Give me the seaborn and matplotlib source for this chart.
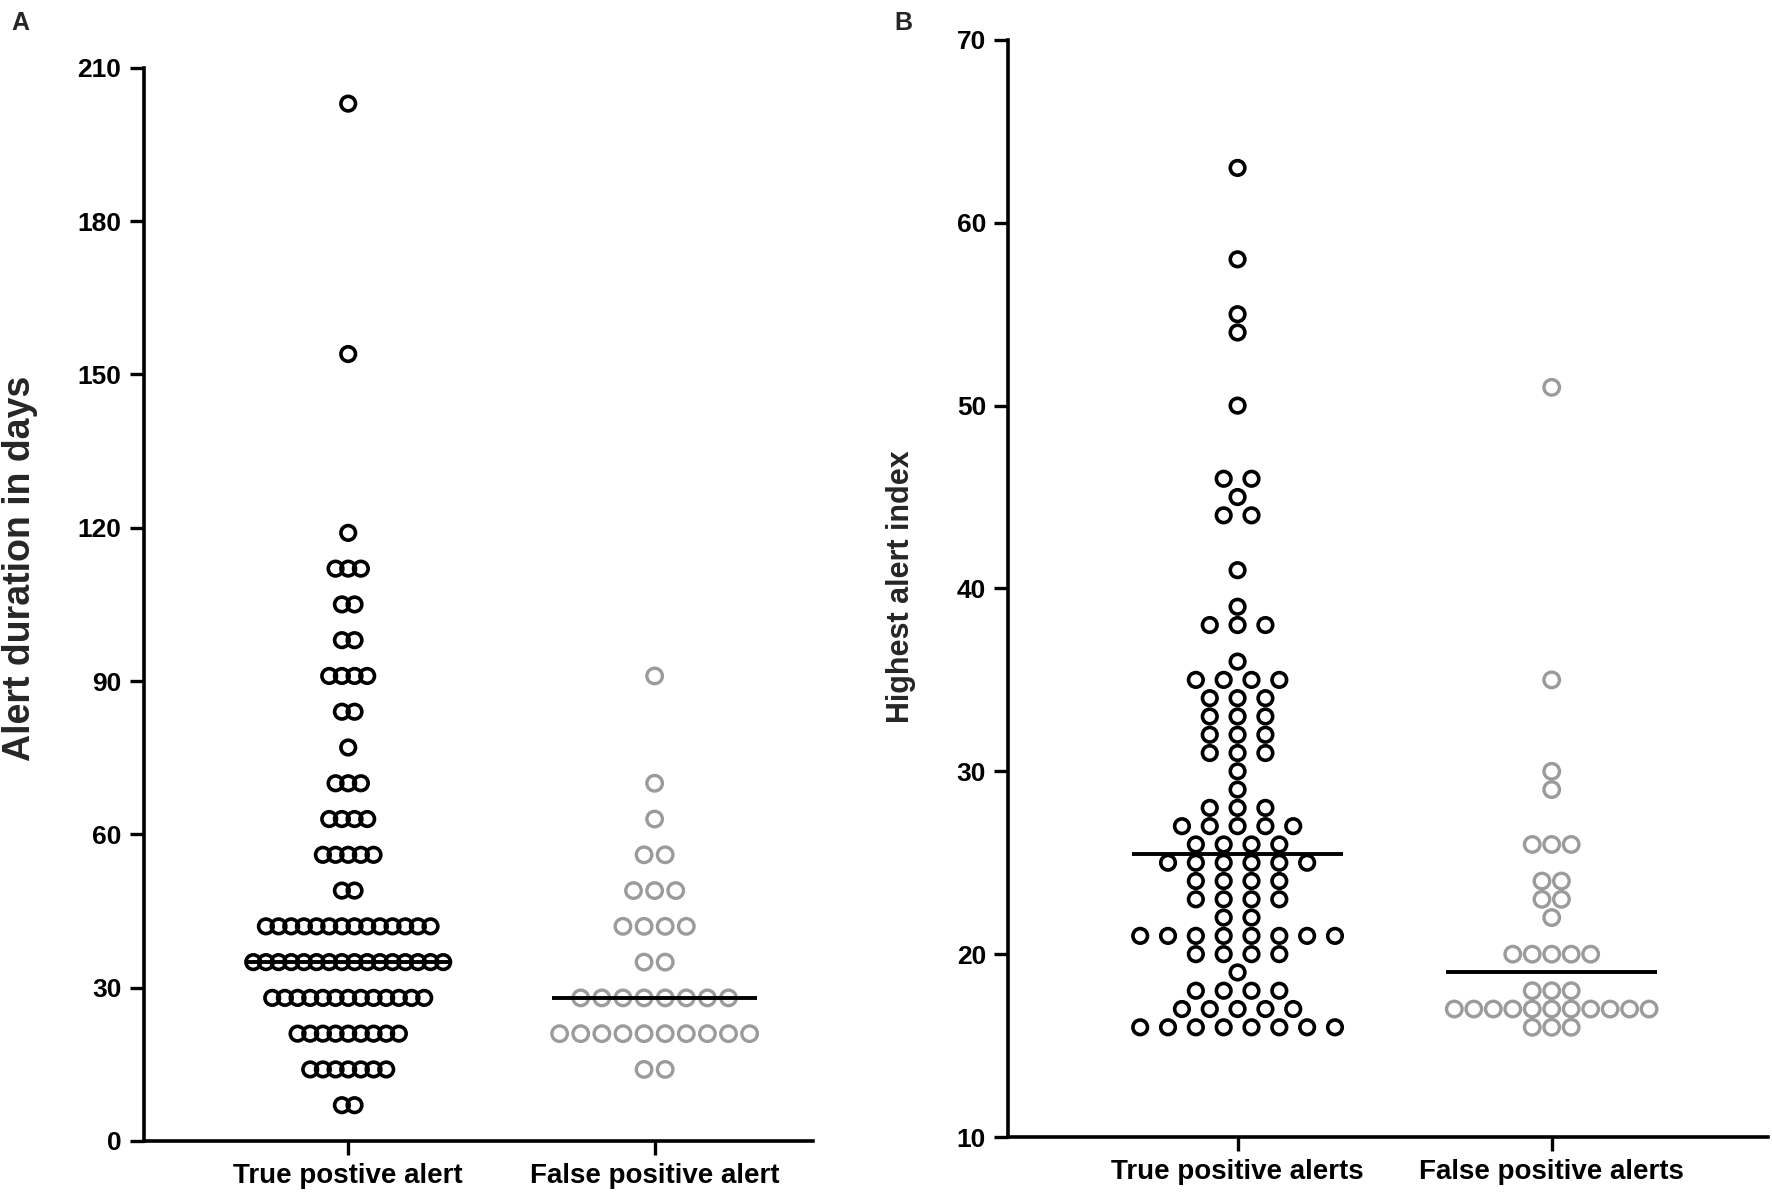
import numpy as np
import pandas as pd
import matplotlib
matplotlib.use('Agg')
import matplotlib.pyplot as plt
import seaborn as sns

# Panel A - alert duration in days: value and number of alerts with that value
tp_days = [7, 14, 21, 28, 35, 42, 49, 56, 63, 70, 77, 84, 91, 98, 105, 112, 119, 154, 203]
tp_days_n = [2, 7, 9, 13, 16, 14, 2, 5, 4, 3, 1, 2, 4, 2, 2, 3, 1, 1, 1]
fp_days = [14, 21, 28, 35, 42, 49, 56, 63, 70, 91]
fp_days_n = [2, 10, 8, 2, 4, 3, 2, 1, 1, 1]

# Panel B - highest alert index
tp_index = [16, 17, 18, 19, 20, 21, 22, 23, 24, 25, 26, 27, 28, 29, 30, 31, 32, 33,
            34, 35, 36, 38, 39, 41, 44, 45, 46, 50, 54, 55, 58, 63]
tp_index_n = [8, 5, 4, 1, 4, 8, 2, 4, 4, 6, 4, 5, 3, 1, 1, 3, 3, 3,
              3, 4, 1, 3, 1, 1, 2, 1, 2, 1, 1, 1, 1, 1]
fp_index = [16, 17, 18, 20, 22, 23, 24, 26, 29, 30, 35, 51]
fp_index_n = [3, 11, 3, 5, 1, 2, 2, 3, 1, 1, 1, 1]

labels_a = ['True postive alert', 'False positive alert']
labels_b = ['True positive alerts', 'False positive alerts']

BLACK = '#000000'
GREY = '#9b9b9b'


def dot_rows(values, counts, pos, width=0.62):
    # prism-style column scatter: equal values sit side by side in a row
    spacing = width / (max(counts) - 1)
    rows = []
    for v, n in zip(values, counts):
        offs = (np.arange(n) - (n - 1) / 2) * spacing
        rows += [(pos + o, v) for o in offs]
    return pd.DataFrame(rows, columns=['x', 'value'])


def draw_panel(ax, groups, labels, ylim, yticks, ylabel, ylabel_size, xlim):
    for i, (vals, cnts, col, sz, lw) in enumerate(groups):
        df = dot_rows(vals, cnts, i)
        sns.scatterplot(data=df, x='x', y='value', ax=ax, s=sz, facecolor='none',
                        edgecolor=col, linewidth=lw, zorder=3, clip_on=False,
                        legend=False)
        med = np.median(np.repeat(vals, cnts))
        ax.hlines(med, i - 0.335, i + 0.335, color='black', lw=2.8, zorder=4)
    ax.set_xlim(*xlim)
    ax.set_ylim(*ylim)
    ax.set_yticks(yticks)
    ax.set_xticks([0, 1])
    ax.set_xticklabels(labels, fontsize=20, fontweight='bold')
    ax.set_xlabel('')
    ax.set_ylabel(ylabel, fontsize=ylabel_size, fontweight='bold')
    ax.tick_params(axis='both', direction='out', length=10, width=2.4,
                   pad=6, colors='black')
    ax.tick_params(axis='x', labelsize=20)
    ax.tick_params(axis='y', labelsize=19)
    for lab in ax.get_yticklabels():
        lab.set_fontweight('bold')
    sns.despine(ax=ax)
    for side in ['left', 'bottom']:
        ax.spines[side].set_linewidth(2.6)
        ax.spines[side].set_color('black')


sns.set_style('ticks')
plt.rcParams['font.family'] = ['Liberation Sans', 'DejaVu Sans']
plt.rcParams['font.weight'] = 'bold'
plt.rcParams['axes.labelweight'] = 'bold'

fig = plt.figure(figsize=(17.72, 11.99), dpi=100)

ax_a = fig.add_axes([0.081, 0.0484, 0.378, 0.895])
draw_panel(ax_a,
           [(tp_days, tp_days_n, BLACK, 110, 2.6), (fp_days, fp_days_n, GREY, 125, 2.4)],
           labels_a, (0, 210), np.arange(0, 211, 30), 'Alert duration in days', 27,
           (-0.668, 1.518))
ax_a.yaxis.set_label_coords(-0.158, 0.534)

ax_b = fig.add_axes([0.569, 0.0517, 0.429, 0.915])
draw_panel(ax_b,
           [(tp_index, tp_index_n, BLACK, 110, 2.6), (fp_index, fp_index_n, GREY, 125, 2.4)],
           labels_b, (10, 70), np.arange(10, 71, 10), 'Highest alert index', 22,
           (-0.73, 1.69))
ax_b.yaxis.set_label_coords(-0.122, 0.502)

fig.text(0.0113, 0.981, 'A', fontsize=18, fontweight='bold', ha='center', va='center')
fig.text(0.510, 0.981, 'B', fontsize=18, fontweight='bold', ha='center', va='center')

fig.savefig('out.png', dpi=100)
